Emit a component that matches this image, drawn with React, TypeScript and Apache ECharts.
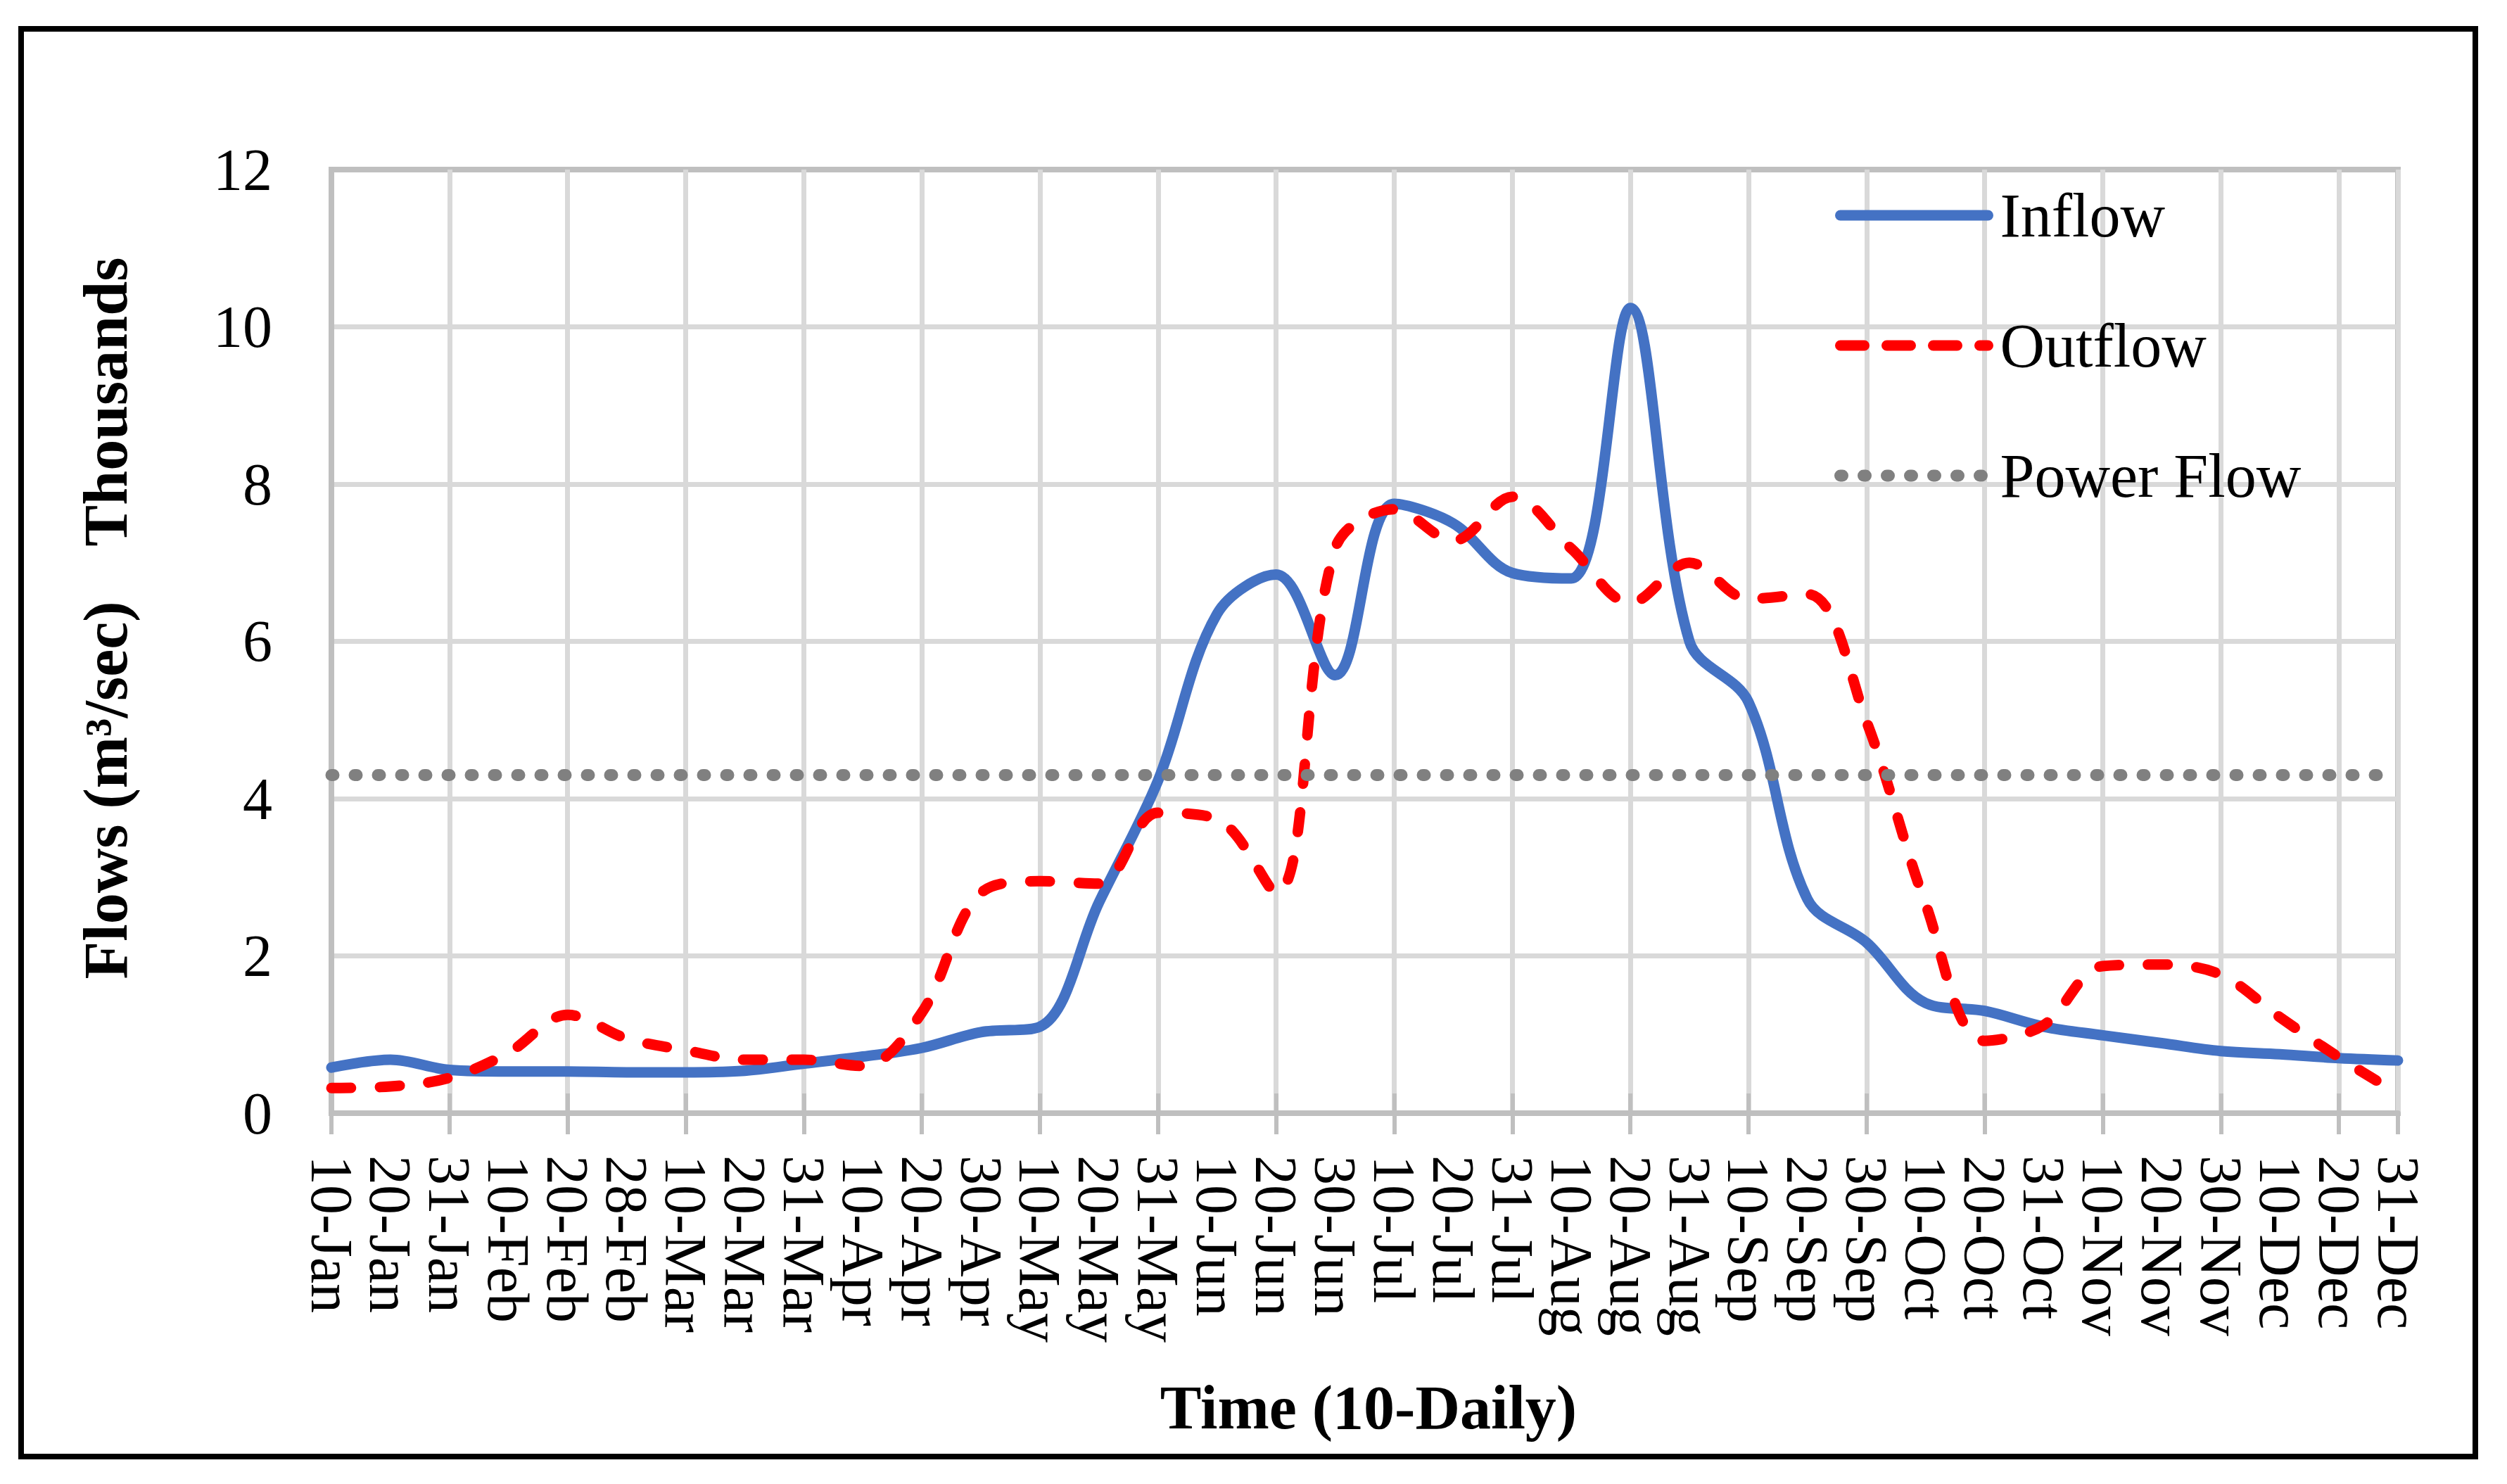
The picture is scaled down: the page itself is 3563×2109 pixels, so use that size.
import React, { useEffect, useRef } from 'react';
import * as echarts from 'echarts';

const categories = [
  '10-Jan', '20-Jan', '31-Jan', '10-Feb', '20-Feb', '28-Feb', '10-Mar', '20-Mar', '31-Mar',
  '10-Apr', '20-Apr', '30-Apr', '10-May', '20-May', '31-May', '10-Jun', '20-Jun', '30-Jun',
  '10-Jul', '20-Jul', '31-Jul', '10-Aug', '20-Aug', '31-Aug', '10-Sep', '20-Sep', '30-Sep',
  '10-Oct', '20-Oct', '31-Oct', '10-Nov', '20-Nov', '30-Nov', '10-Dec', '20-Dec', '31-Dec',
];

// Flows in thousands of m3/sec
const inflow = [
  0.58, 0.68, 0.55, 0.53, 0.53, 0.52, 0.52, 0.54, 0.63,
  0.72, 0.83, 1.03, 1.1, 2.68, 4.23, 6.35, 6.85, 5.57,
  7.75, 7.5, 6.87, 6.8, 10.24, 6.0, 5.23, 2.72, 2.17,
  1.4, 1.3, 1.1, 0.99, 0.89, 0.79, 0.75, 0.7, 0.67,
];

const outflow = [
  0.32, 0.34, 0.45, 0.77, 1.25, 0.95, 0.8, 0.68, 0.68,
  0.6, 1.28, 2.8, 2.95, 2.92, 3.82, 3.74, 2.8, 7.18,
  7.68, 7.28, 7.84, 7.18, 6.49, 7.0, 6.54, 6.6, 4.98,
  2.66, 0.92, 1.12, 1.87, 1.89, 1.76, 1.22, 0.71, 0.25,
];

const powerFlow = 4.3;

const yMin = 0;
const yMax = 12;
const yInterval = 2;

const seriesNames = ['Inflow', 'Outflow', 'Power Flow'];

const FONT = '"Liberation Serif", "Times New Roman", serif';

export default function App() {
  const ref = useRef<HTMLDivElement>(null);

  useEffect(() => {
    const chart = echarts.init(ref.current as HTMLDivElement, null, { renderer: 'svg' });
    chart.setOption({
      animation: false,
      backgroundColor: '#FFFFFF',
      grid: {
        left: 471,
        right: 155,
        top: 241,
        bottom: 527,
        show: true,
        borderColor: '#BFBFBF',
        borderWidth: 8,
        backgroundColor: 'transparent',
      },
      xAxis: [
        {
          type: 'category',
          data: categories,
          boundaryGap: false,
          axisLine: { lineStyle: { color: '#BFBFBF', width: 8 } },
          axisTick: { show: true, interval: 1, length: 30, lineStyle: { color: '#BFBFBF', width: 6 } },
          axisLabel: {
            interval: 0,
            rotate: -90,
            margin: 60,
            fontFamily: FONT,
            fontSize: 84,
            color: '#000000',
          },
          splitLine: { show: true, interval: 1, lineStyle: { color: '#D9D9D9', width: 7 } },
        },
        {
          type: 'category',
          data: categories,
          boundaryGap: false,
          position: 'bottom',
          axisLine: { show: false },
          axisLabel: { show: false },
          splitLine: { show: false },
          axisTick: { show: true, inside: true, interval: 1, length: 28, lineStyle: { color: '#BFBFBF', width: 6 } },
        },
      ],
      yAxis: {
        type: 'value',
        min: yMin,
        max: yMax,
        interval: yInterval,
        axisLine: { show: true, lineStyle: { color: '#BFBFBF', width: 8 } },
        axisTick: { show: false },
        axisLabel: { margin: 84, fontFamily: FONT, fontSize: 84, color: '#000000' },
        splitLine: {
          show: true,
          lineStyle: {
            color: ['#BFBFBF', '#D9D9D9', '#D9D9D9', '#D9D9D9', '#D9D9D9', '#D9D9D9', '#BFBFBF'],
            width: 7,
          },
        },
      },
      legend: {
        orient: 'vertical',
        left: 2607,
        top: 262,
        padding: 0,
        itemWidth: 210,
        itemHeight: 16,
        itemGap: 97,
        selectedMode: false,
        data: [
          { name: seriesNames[0] },
          { name: seriesNames[1], lineStyle: { type: [34, 32] } },
          { name: seriesNames[2] },
        ],
        itemStyle: { opacity: 0 },
        lineStyle: { width: 'inherit' },
        textStyle: {
          fontFamily: FONT,
          fontSize: 88,
          color: '#000000',
          lineHeight: 16,
          padding: [0, 0, 0, 12],
        },
      },
      graphic: [
        {
          type: 'rect',
          shape: { x: 30, y: 41, width: 3488, height: 2029 },
          style: { fill: 'none', stroke: '#000000', lineWidth: 8 },
          silent: true,
        },
        {
          type: 'text',
          x: 150,
          y: 1123,
          rotation: Math.PI / 2,
          style: {
            text: 'Flows (m³/sec)',
            font: 'bold 88px "Liberation Serif", serif',
            fill: '#000000',
            textAlign: 'center',
            textVerticalAlign: 'middle',
          },
        },
        {
          type: 'text',
          x: 150,
          y: 571,
          rotation: Math.PI / 2,
          style: {
            text: 'Thousands',
            font: 'bold 88px "Liberation Serif", serif',
            fill: '#000000',
            textAlign: 'center',
            textVerticalAlign: 'middle',
          },
        },
        {
          type: 'text',
          x: 1945,
          y: 2000,
          style: {
            text: 'Time (10-Daily)',
            font: 'bold 88px "Liberation Serif", serif',
            fill: '#000000',
            textAlign: 'center',
            textVerticalAlign: 'middle',
          },
        },
      ],
      series: [
        {
          name: seriesNames[0],
          type: 'line',
          xAxisIndex: 0,
          data: inflow,
          smooth: 0.35,
          symbol: 'none',
          showSymbol: false,
          itemStyle: { color: '#4472C4' },
          lineStyle: { color: '#4472C4', width: 15, cap: 'round', join: 'round' },
        },
        {
          name: seriesNames[1],
          type: 'line',
          xAxisIndex: 0,
          data: outflow,
          smooth: 0.35,
          symbol: 'none',
          showSymbol: false,
          itemStyle: { color: '#FF0000' },
          lineStyle: { color: '#FF0000', width: 15, type: [28, 41], cap: 'round', join: 'round' },
        },
        {
          name: seriesNames[2],
          type: 'line',
          xAxisIndex: 0,
          data: categories.map(() => powerFlow),
          symbol: 'none',
          showSymbol: false,
          itemStyle: { color: '#808080' },
          lineStyle: { color: '#808080', width: 17, type: [3, 30], cap: 'round' },
        },
      ],
    });
    return () => {
      chart.dispose();
    };
  }, []);

  return (
    <div
      ref={ref}
      style={{ position: 'fixed', left: 0, top: 0, width: 3563, height: 2109, background: '#FFFFFF' }}
    />
  );
}
